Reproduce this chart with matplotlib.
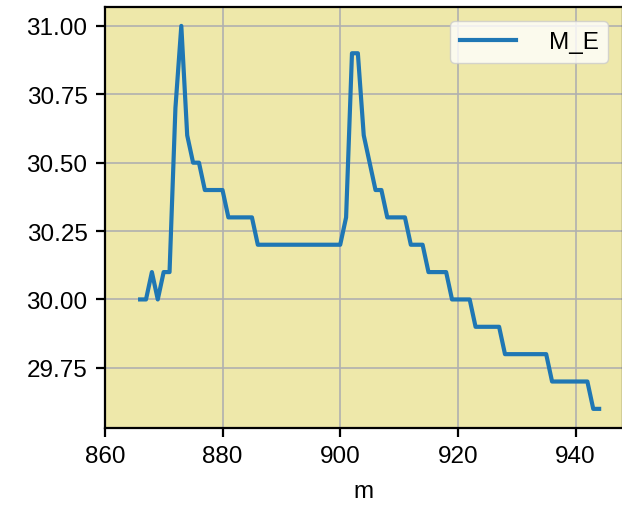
import matplotlib
matplotlib.use("Agg")
import matplotlib.pyplot as plt
from matplotlib.ticker import FormatStrFormatter

# depth (m) and M_E readings
m = list(range(866, 945))
m_e = [30.0, 30.0, 30.1, 30.0, 30.1, 30.1, 30.7, 31.0, 30.6, 30.5,
       30.5, 30.4, 30.4, 30.4, 30.4, 30.3, 30.3, 30.3, 30.3, 30.3,
       30.2, 30.2, 30.2, 30.2, 30.2, 30.2, 30.2, 30.2, 30.2, 30.2,
       30.2, 30.2, 30.2, 30.2, 30.2, 30.3, 30.9, 30.9, 30.6, 30.5,
       30.4, 30.4, 30.3, 30.3, 30.3, 30.3, 30.2, 30.2, 30.2, 30.1,
       30.1, 30.1, 30.1, 30.0, 30.0, 30.0, 30.0, 29.9, 29.9, 29.9,
       29.9, 29.9, 29.8, 29.8, 29.8, 29.8, 29.8, 29.8, 29.8, 29.8,
       29.7, 29.7, 29.7, 29.7, 29.7, 29.7, 29.7, 29.6, 29.6]

plt.rcParams['font.family'] = ['Liberation Sans', 'DejaVu Sans']
plt.rcParams['font.size'] = 17.5

fig = plt.figure(figsize=(6.22, 5.1), dpi=100)
ax = fig.add_axes([0.1685, 0.1588, 0.8326, 0.826])
ax.set_facecolor('#eee8aa')

ax.plot(m, m_e, color='#1f77b4', lw=3.0, label='M_E')
ax.set_xlim(860, 948)
ax.set_ylim(29.53, 31.07)
ax.set_xticks([860, 880, 900, 920, 940])
ax.set_yticks([29.75, 30.0, 30.25, 30.5, 30.75, 31.0])
ax.yaxis.set_major_formatter(FormatStrFormatter('%.2f'))
ax.set_xlabel('m', labelpad=9)

ax.grid(True, color='#b0b0b0', lw=1.2)
ax.set_axisbelow(True)
for s in ax.spines.values():
    s.set_linewidth(1.6)
ax.tick_params(width=1.6, length=6.5, pad=6)

ax.legend(loc='upper right', handlelength=2.3, handletextpad=1.35,
          borderaxespad=0.6)

fig.savefig('out.png', dpi=100)
